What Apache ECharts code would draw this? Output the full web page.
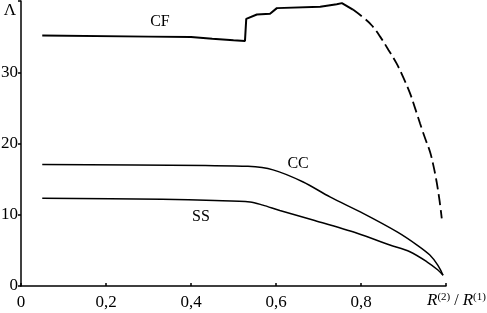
<!DOCTYPE html>
<html>
<head>
<meta charset="utf-8">
<script src="https://cdn.jsdelivr.net/npm/echarts@6/dist/echarts.min.js"></script>
<style>html,body{margin:0;padding:0;background:#fff}#c{width:487px;height:313px}</style>
</head>
<body>
<div id="c"></div>
<script>
var xTicks = [0, 0.2, 0.4, 0.6, 0.8, 1.0];
var yTicks = [0, 10, 20, 30];
var cfSolid = [[0.05,35.15],[0.3,35.0],[0.4,34.95],[0.45,34.7],[0.5,34.5],[0.527,34.4],[0.530,37.5],[0.555,38.1],[0.586,38.2],[0.602,39.0],[0.704,39.2],[0.743,39.55],[0.755,39.7],[0.781,38.8]];
var cfDashed = [[0.781,38.8],[0.805,37.7],[0.825,36.6],[0.845,35.0],[0.865,33.1],[0.884,31.2],[0.900,29.2],[0.915,27.1],[0.927,25.0],[0.939,22.8],[0.951,20.7],[0.962,18.9],[0.970,17.0],[0.978,14.6],[0.985,11.9],[0.990,9.5]];
var cc = [[0.05,17.06],[0.434,16.9],[0.534,16.8],[0.593,16.3],[0.664,14.6],[0.727,12.5],[0.805,10.2],[0.885,7.6],[0.932,5.75],[0.962,4.35],[0.981,2.9],[0.993,1.5]];
var ss = [[0.05,12.3],[0.332,12.16],[0.456,12.0],[0.539,11.8],[0.569,11.35],[0.609,10.6],[0.687,9.26],[0.791,7.4],[0.868,5.75],[0.915,4.8],[0.955,3.4],[0.981,2.25],[0.993,1.5]];
var curveLabels = [{name:'CF', coord:[0.327,37.1]}, {name:'CC', coord:[0.652,17.1]}, {name:'SS', coord:[0.4235,9.7]}];

var font = 'Liberation Serif';
var chart = echarts.init(document.getElementById('c'), null, {renderer:'canvas'});
chart.setOption({
  animation: false,
  grid: {left:21, right:41, top:1, bottom:27, containLabel:false, outerBoundsMode:'none'},
  xAxis: {
    type:'value', min:0, max:1, interval:0.2,
    axisLine:{lineStyle:{color:'#000', width:1.5}},
    axisTick:{show:true, inside:true, length:3, lineStyle:{color:'#000', width:1.5}},
    splitLine:{show:false},
    axisLabel:{color:'#000', fontFamily:font, fontSize:17, margin:8,
      formatter:function(v){ if (v >= 0.999) return ''; return v===0 ? '0' : v.toFixed(1).replace('.', ','); }},
    name:'{i|R}{s|(2)}{n| / }{i|R}{s|(1)}',
    nameLocation:'end', nameGap:-19,
    nameTextStyle:{align:'left', verticalAlign:'top', padding:[6,0,0,0],
      rich:{i:{fontFamily:font, fontStyle:'italic', fontSize:17, color:'#000'},
            s:{fontFamily:font, fontSize:11, color:'#000', verticalAlign:'top', padding:[0,0,6,0]},
            n:{fontFamily:font, fontSize:16, color:'#000'}}}
  },
  yAxis: {
    type:'value', min:0, max:40, interval:10,
    axisLine:{show:true, lineStyle:{color:'#000', width:1.5}},
    axisTick:{show:true, length:3, lineStyle:{color:'#000', width:1.5}},
    splitLine:{show:false},
    axisLabel:{color:'#000', fontFamily:font, fontSize:17, margin:3,
      formatter:function(v){ return v >= 40 ? '' : String(v); }},
    name:'Λ', nameLocation:'end', nameGap:-10,
    nameTextStyle:{color:'#000', fontFamily:font, fontSize:17, align:'right', verticalAlign:'middle', padding:[0,5,0,0]}
  },
  series: [
    {type:'line', data:cfSolid, symbol:'none', lineStyle:{color:'#000', width:2},
     markPoint:{symbol:'circle', symbolSize:0, data:curveLabels.map(function(l){return {name:l.name, coord:l.coord};}),
       label:{show:true, formatter:'{b}', color:'#000', fontFamily:font, fontSize:16, position:'inside'}}},
    {type:'line', data:cfDashed, symbol:'none', smooth:0.4, lineStyle:{color:'#000', width:1.8, type:[11,5]}},
    {type:'line', data:cc, symbol:'none', smooth:0.3, lineStyle:{color:'#000', width:1.5}},
    {type:'line', data:ss, symbol:'none', smooth:0.3, lineStyle:{color:'#000', width:1.5}}
  ]
});
</script>
</body>
</html>
